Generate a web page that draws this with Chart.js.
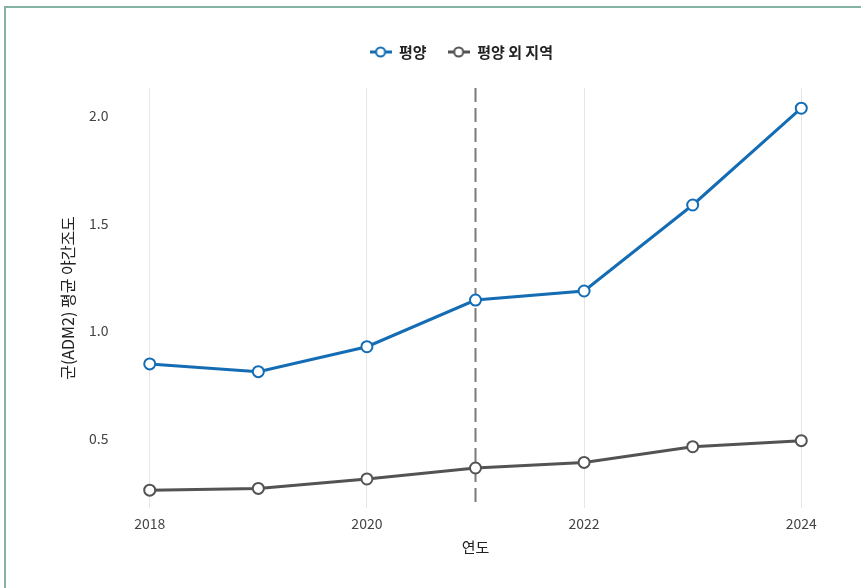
<!DOCTYPE html>
<html>
<head>
<meta charset="utf-8">
<script src="https://cdn.jsdelivr.net/npm/chart.js@4.4.1/dist/chart.umd.min.js"></script>
<style>
html, body { margin: 0; padding: 0; background: #fff; overflow: hidden; }
#frame { position: absolute; left: 4px; top: 6px; width: 900px; height: 620px; border: 2px solid #84b4a1; }
#wrap { position: absolute; left: 0; top: 0; width: 861px; height: 588px; }
</style>
</head>
<body>
<div id="frame"></div>
<div id="wrap"><canvas id="chart" width="861" height="588"></canvas></div>
<script>
// values
const years = [2018, 2019, 2020, 2021, 2022, 2023, 2024];
const pyongyang = [0.847, 0.811, 0.927, 1.144, 1.186, 1.586, 2.036];
const others = [0.260, 0.268, 0.312, 0.363, 0.389, 0.462, 0.490];
const seriesNames = ['평양', '평양 외 지역'];
const xTicks = [2018, 2020, 2022, 2024];
const yTicks = [0.5, 1.0, 1.5, 2.0];
const markYear = 2021;

const blue = '#146db4';
const grey = '#535353';
const font = '"Noto Sans CJK KR", "Noto Sans", sans-serif';

// small line + circle marker for the legend
const legendMarker = (color) => {
    const c = document.createElement('canvas');
    c.width = 22;
    c.height = 14;
    const g = c.getContext('2d');
    g.strokeStyle = color;
    g.lineWidth = 3;
    g.beginPath();
    g.moveTo(0, 7);
    g.lineTo(22, 7);
    g.stroke();
    g.beginPath();
    g.arc(11, 7, 4.5, 0, Math.PI * 2);
    g.fillStyle = '#fff';
    g.fill();
    g.lineWidth = 2;
    g.stroke();
    return c;
};
const markers = [legendMarker(blue), legendMarker(grey)];

// dashed vertical line at 2021
const markLine = {
    id: 'markLine',
    beforeDatasetsDraw(chart) {
        const {ctx, chartArea, scales} = chart;
        const x = scales.x.getPixelForValue(markYear);
        ctx.save();
        ctx.strokeStyle = '#7a7a7a';
        ctx.lineWidth = 2;
        ctx.setLineDash([14, 6]);
        ctx.beginPath();
        ctx.moveTo(x, chartArea.top);
        ctx.lineTo(x, chartArea.bottom);
        ctx.stroke();
        ctx.restore();
    }
};

const toPoints = (vals) => years.map((y, i) => ({x: y, y: vals[i]}));

const lineSet = (label, vals, color) => ({
    label: label,
    data: toPoints(vals),
    borderColor: color,
    backgroundColor: '#fff',
    borderWidth: 3,
    pointRadius: 5.5,
    pointHoverRadius: 5.5,
    pointBorderWidth: 2,
    pointBorderColor: color,
    pointBackgroundColor: '#fff',
    tension: 0
});

// left padding is wide so the legend sits where it does in the picture;
// the y labels are mirrored (not clipped) and pulled back out with negative padding
const chart = new Chart(document.getElementById('chart'), {
    type: 'line',
    data: {
        datasets: [
            lineSet(seriesNames[0], pyongyang, blue),
            lineSet(seriesNames[1], others, grey)
        ]
    },
    plugins: [markLine],
    options: {
        responsive: false,
        animation: false,
        layout: { padding: { left: 99.5, right: 38, top: 23.5, bottom: 30 } },
        plugins: {
            tooltip: { enabled: false },
            legend: {
                position: 'top',
                labels: {
                    usePointStyle: true,
                    pointStyleWidth: 22,
                    padding: 21,
                    color: '#222',
                    font: { family: font, size: 15, weight: 'bold' },
                    generateLabels: (c) => Chart.defaults.plugins.legend.labels.generateLabels(c)
                        .map((l, i) => ({...l, pointStyle: markers[i]}))
                }
            },
            // empty spacer between legend and plot
            subtitle: {
                display: true,
                text: '',
                position: 'top',
                weight: 100,
                font: { size: 1, lineHeight: 1 },
                padding: { top: 17.5, bottom: 0 }
            }
        },
        scales: {
            x: {
                type: 'linear',
                min: 2017.8,
                max: 2024.2,
                afterBuildTicks: (axis) => { axis.ticks = xTicks.map(v => ({value: v})); },
                afterFit: (axis) => { axis.height = 50; },
                grid: { color: '#e6e6e6', lineWidth: 1, drawTicks: false },
                border: { display: false },
                ticks: {
                    padding: 7,
                    color: '#444',
                    font: { family: font, size: 14 },
                    callback: (v) => String(v)
                },
                title: {
                    display: true,
                    text: '연도',
                    color: '#222',
                    font: { family: font, size: 15 },
                    padding: { top: 0, bottom: 2 }
                }
            },
            y: {
                min: 0.177,
                max: 2.13,
                afterBuildTicks: (axis) => { axis.ticks = yTicks.map(v => ({value: v})); },
                afterFit: (axis) => { axis.width = 28.5; },
                grid: { display: false, drawTicks: false },
                border: { display: false },
                ticks: {
                    mirror: true,
                    crossAlign: 'far',
                    padding: -39,
                    color: '#444',
                    font: { family: font, size: 14 },
                    callback: (v) => v.toFixed(1)
                },
                title: {
                    display: true,
                    text: '군(ADM2) 평균 야간조도',
                    color: '#222',
                    font: { family: font, size: 16 },
                    padding: { top: -41.1, bottom: 0 }
                }
            }
        }
    }
});
</script>
</body>
</html>
